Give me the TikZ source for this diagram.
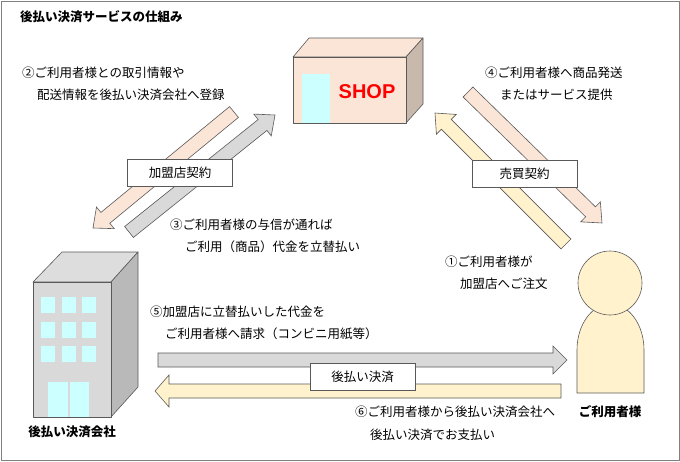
\documentclass[tikz,border=0pt]{standalone}
\usepackage{fontspec}
\setmainfont{Noto Sans CJK JP}
\newfontfamily\shopfont{Liberation Sans}
\usetikzlibrary{calc}
\definecolor{pinkf}{HTML}{FBE5D6}
\definecolor{greyf}{HTML}{D9D9D9}
\definecolor{yelf}{HTML}{FFF2CC}
\definecolor{cyanf}{HTML}{CCFFFF}
\definecolor{shopside}{HTML}{C9B8AC}
\definecolor{edge}{HTML}{595959}
\newcommand{\fatarrow}[6]{% start, end, halfshaft, halfhead, headlen, fill
  \coordinate (H) at ($(#2)!#5pt!(#1)$);
  \draw[edge,fill=#6,line width=0.6pt,line join=miter]
    ($(#1)!#3pt!90:(#2)$) -- ($(H)!#3pt!-90:(#1)$) -- ($(H)!#4pt!-90:(#1)$) -- (#2)
    -- ($(H)!#4pt!90:(#1)$) -- ($(H)!#3pt!90:(#1)$) -- ($(#1)!#3pt!-90:(#2)$) -- cycle;}
\tikzset{lbl/.style={draw=edge,fill=white,line width=0.6pt,minimum width=105pt,minimum height=27pt,inner sep=0pt,font=\fontsize{12.5}{14}\selectfont},
 txt/.style={anchor=west,inner sep=0pt,font=\fontsize{12.5}{14}\selectfont},
 bold/.style={inner sep=0pt,font=\bfseries\fontsize{12.5}{14}\selectfont},
 face/.style={draw=edge,line width=0.6pt,line join=round}}
\begin{document}
\begin{tikzpicture}[x=1pt,y=-1pt]
\useasboundingbox (0,0) rectangle (680,461);
\draw[gray,line width=0.8pt] (1,1) rectangle (679,460);
\node[bold,anchor=west] (title) at (20,17) {後払い決済サービスの仕組み};
% shop
\draw[face,fill=pinkf] (293,57) -- (309,38) -- (423,38) -- (406,57) -- cycle;
\draw[face,fill=shopside] (406,57) -- (423,38) -- (423,104) -- (406,123) -- cycle;
\draw[face,fill=pinkf] (293,57) rectangle (406,123);
\fill[cyanf] (302,74) rectangle (330,122.6);
\node[inner sep=0pt,text=red,font=\shopfont\bfseries\fontsize{20}{22}\selectfont] (shop) at (367,92) {SHOP};
% building
\draw[face,fill=greyf!90!white] (33,282) -- (62,252) -- (138,252) -- (111,282) -- cycle;
\draw[face,fill=gray!55] (111,282) -- (138,252) -- (138,387) -- (111,417) -- cycle;
\draw[face,fill=greyf] (33,282) rectangle (111,417);
\foreach \x in {41,62,82}{\foreach \y in {297,322,346}{\fill[cyanf] (\x,\y) rectangle ++(14,16);}}
\fill[cyanf] (48,382) rectangle (67.5,416.6);
\fill[cyanf] (69.5,382) rectangle (89,416.6);
\node[bold] (comp) at (72,432) {後払い決済会社};
% person
\draw[face,fill=yelf] (577,393) -- (577,350) arc[start angle=180,end angle=360,x radius=33.5,y radius=46] -- (644,393) -- cycle;
\draw[face,fill=yelf] (610,283) circle[radius=32];
\node[bold] (user) at (610,412) {ご利用者様};
% arrows
\coordinate (a1s) at (234,112); \coordinate (a1e) at (93,228);
\coordinate (a2s) at (129,232); \coordinate (a2e) at (275,115);
\coordinate (a3s) at (468,92);  \coordinate (a3e) at (602,223);
\coordinate (a4s) at (566,244); \coordinate (a4e) at (435,113);
\coordinate (a5s) at (158,360); \coordinate (a5e) at (567,360);
\coordinate (a6s) at (561,391); \coordinate (a6e) at (155,391);
\fatarrow{a1s}{a1e}{7}{14}{16}{pinkf}
\fatarrow{a2s}{a2e}{7}{14}{16}{greyf}
\fatarrow{a3s}{a3e}{7}{14}{16}{pinkf}
\fatarrow{a4s}{a4e}{7}{14}{16}{yelf}
\fatarrow{a5s}{a5e}{7}{14}{14}{greyf}
\fatarrow{a6s}{a6e}{7}{16}{14}{yelf}
\node[lbl] (k1) at (180,173) {加盟店契約};
\node[lbl] (k2) at (524.5,173.5) {売買契約};
\node[lbl] (k3) at (362.5,376.5) {後払い決済};
% texts
\node[txt] (t2a) at (22,73) {②ご利用者様との取引情報や};
\node[txt] (t2b) at (37,95) {配送情報を後払い決済会社へ登録};
\node[txt] (t4a) at (485,73) {④ご利用者様へ商品発送};
\node[txt] (t4b) at (500,95) {またはサービス提供};
\node[txt] (t3a) at (170,225) {③ご利用者様の与信が通れば};
\node[txt] (t3b) at (185,247) {ご利用（商品）代金を立替払い};
\node[txt] (t1a) at (445,262) {①ご利用者様が};
\node[txt] (t1b) at (460,284) {加盟店へご注文};
\node[txt] (t5a) at (150,312) {⑤加盟店に立替払いした代金を};
\node[txt] (t5b) at (165,334) {ご利用者様へ請求（コンビニ用紙等）};
\node[txt] (t6a) at (355,412) {⑥ご利用者様から後払い決済会社へ};
\node[txt] (t6b) at (370,435) {後払い決済でお支払い};
\end{tikzpicture}
\end{document}
